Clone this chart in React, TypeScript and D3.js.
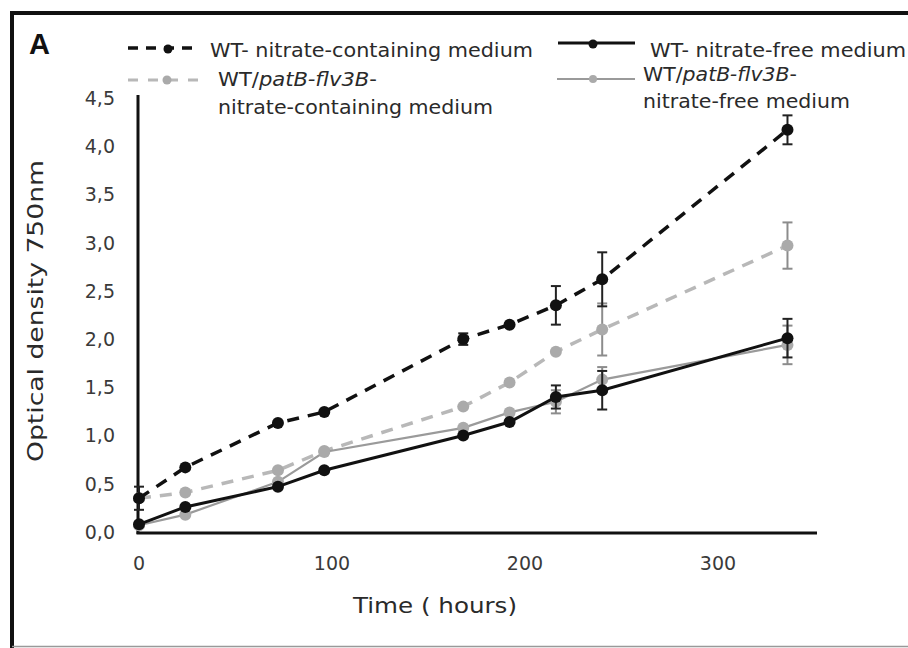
import React from "react";
import * as d3 from "d3";

const hours = [0, 24, 72, 96, 168, 192, 216, 240, 336];
const wtNitrate = [0.35, 0.67, 1.13, 1.245, 2.0, 2.15, 2.35, 2.62, 4.17];
const wtNitrateErr = [0.12, 0.02, 0.03, 0.03, 0.06, 0.03, 0.2, 0.28, 0.15];
const flvNitrate = [0.35, 0.41, 0.64, 0.84, 1.3, 1.55, 1.87, 2.1, 2.97];
const flvNitrateErr = [0.04, 0.02, 0.03, 0.03, 0.04, 0.03, 0.04, 0.27, 0.24];
const wtFree = [0.08, 0.26, 0.47, 0.64, 1.0, 1.14, 1.4, 1.47, 2.01];
const wtFreeErr = [0.02, 0.02, 0.02, 0.02, 0.03, 0.03, 0.12, 0.2, 0.2];
const flvFree = [0.07, 0.18, 0.52, 0.83, 1.08, 1.24, 1.35, 1.58, 1.94];
const flvFreeErr = [0.02, 0.02, 0.03, 0.02, 0.03, 0.03, 0.12, 0.13, 0.2];

const yTicks = [0, 0.5, 1, 1.5, 2, 2.5, 3, 3.5, 4, 4.5];
const xTicks = [0, 100, 200, 300];

const FONT = "'DejaVu Sans', sans-serif";

type Series = {
  key: string;
  values: number[];
  err: number[];
  color: string;
  markerColor: string;
  width: number;
  dash?: string;
};

export default function App() {
  const x = d3.scaleLinear().domain([0, 350]).range([139, 814.5]);
  const y = d3.scaleLinear().domain([0, 4.5]).range([532, 98]);

  const series: Series[] = [
    { key: "flvN", values: flvNitrate, err: flvNitrateErr, color: "#b8b8b8", markerColor: "#aaaaaa", width: 3.5, dash: "12,9" },
    { key: "flvF", values: flvFree, err: flvFreeErr, color: "#9a9a9a", markerColor: "#aaaaaa", width: 2.2 },
    { key: "wtF", values: wtFree, err: wtFreeErr, color: "#111", markerColor: "#111", width: 3 },
    { key: "wtN", values: wtNitrate, err: wtNitrateErr, color: "#111", markerColor: "#111", width: 3.5, dash: "12,9" },
  ];

  const line = d3
    .line<number>()
    .x((_, i) => x(hours[i]))
    .y((v) => y(v));

  const fmt = (v: number) => v.toFixed(1).replace(".", ",");

  return (
    <svg
      width={908}
      height={648}
      style={{ position: "absolute", left: 0, top: 0, background: "#fff" }}
      fontFamily={FONT}
    >
      <rect x={0} y={0} width={908} height={648} fill="#fff" />
      {/* frame */}
      <line x1={10} y1={13} x2={908} y2={13} stroke="#111" strokeWidth={4} />
      <line x1={12} y1={11} x2={12} y2={648} stroke="#111" strokeWidth={4} />
      <line x1={12} y1={646.5} x2={908} y2={646.5} stroke="#999" strokeWidth={1.5} />

      {/* Panel label */}
      <text x={29} y={54} fontSize={29} fontWeight="bold" fontFamily="'Liberation Sans', Arial, sans-serif" fill="#111">
        A
      </text>

      {/* axes */}
      <line x1={x(0) - 1} y1={95} x2={x(0) - 1} y2={534} stroke="#111" strokeWidth={3} />
      <line x1={x(0) - 2.5} y1={533} x2={817} y2={533} stroke="#111" strokeWidth={3} />

      {yTicks.map((t) => (
        <text key={t} x={115} y={y(t)} dy="0.36em" textAnchor="end" fontSize={19} fill="#3a3a3a">
          {fmt(t)}
        </text>
      ))}
      {xTicks.map((t) => (
        <text key={t} x={x(t)} y={570} textAnchor="middle" fontSize={19} fill="#3a3a3a">
          {t}
        </text>
      ))}

      <text x={353} y={613} fontSize={22} fill="#2a2a2a" textLength={164} lengthAdjust="spacingAndGlyphs">
        Time ( hours)
      </text>
      <text
        transform="translate(43,311) rotate(-90)"
        textAnchor="middle"
        fontSize={22}
        fill="#2a2a2a"
        textLength={302}
        lengthAdjust="spacingAndGlyphs"
      >
        Optical density 750nm
      </text>

      {/* series */}
      {series.map((s) => (
        <g key={s.key}>
          {s.values.map((v, i) => {
            const e = s.err[i];
            if (e < 0.05) return null;
            const cx = x(hours[i]);
            return (
              <g key={i} stroke={s.key.startsWith("wt") ? "#222" : "#8c8c8c"} strokeWidth={2}>
                <line x1={cx} x2={cx} y1={y(v + e)} y2={y(v - e)} />
                <line x1={cx - 5} x2={cx + 5} y1={y(v + e)} y2={y(v + e)} />
                <line x1={cx - 5} x2={cx + 5} y1={y(v - e)} y2={y(v - e)} />
              </g>
            );
          })}
          <path d={line(s.values) || ""} fill="none" stroke={s.color} strokeWidth={s.width} strokeDasharray={s.dash} />
          {s.values.map((v, i) => (
            <circle key={i} cx={x(hours[i])} cy={y(v)} r={6} fill={s.markerColor} />
          ))}
        </g>
      ))}

      {/* legend */}
      <g>
        <line x1={128} x2={200} y1={48} y2={48} stroke="#111" strokeWidth={3.5} strokeDasharray="10,8" />
        <circle cx={168} cy={49} r={4.5} fill="#111" />
        <text x={210} y={57} fontSize={19} fill="#2a2a2a" textLength={323} lengthAdjust="spacingAndGlyphs">
          WT- nitrate-containing medium
        </text>

        <line x1={128} x2={200} y1={80} y2={80} stroke="#b8b8b8" strokeWidth={3} strokeDasharray="10,10" />
        <circle cx={167} cy={80} r={4.5} fill="#aaaaaa" />
        <text x={218} y={86} fontSize={19} fill="#2a2a2a" textLength={159} lengthAdjust="spacingAndGlyphs">
          WT/<tspan fontStyle="italic">patB-flv3B</tspan>-
        </text>
        <text x={218} y={114} fontSize={19} fill="#2a2a2a" textLength={275} lengthAdjust="spacingAndGlyphs">
          nitrate-containing medium
        </text>

        <line x1={558} x2={635} y1={43} y2={43} stroke="#111" strokeWidth={3} />
        <circle cx={593} cy={44} r={4.5} fill="#111" />
        <text x={650} y={57} fontSize={19} fill="#2a2a2a" textLength={256} lengthAdjust="spacingAndGlyphs">
          WT- nitrate-free medium
        </text>

        <line x1={557} x2={635} y1={79} y2={79} stroke="#9a9a9a" strokeWidth={2} />
        <circle cx={593} cy={79} r={4} fill="#aaaaaa" />
        <text x={643} y={81} fontSize={19} fill="#2a2a2a" textLength={154} lengthAdjust="spacingAndGlyphs">
          WT/<tspan fontStyle="italic">patB-flv3B</tspan>-
        </text>
        <text x={643} y={108} fontSize={19} fill="#2a2a2a" textLength={207} lengthAdjust="spacingAndGlyphs">
          nitrate-free medium
        </text>
      </g>
    </svg>
  );
}
